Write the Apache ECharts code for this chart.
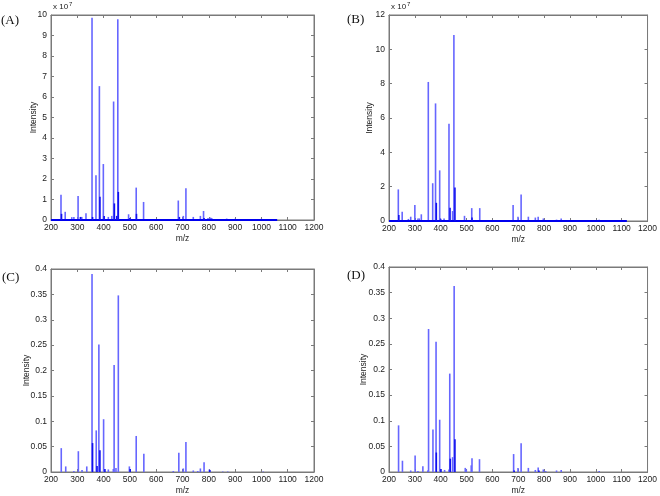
<!DOCTYPE html>
<html>
<head>
<meta charset="utf-8">
<script src="https://cdn.jsdelivr.net/npm/echarts@6/dist/echarts.min.js"></script>
<style>html,body{margin:0;padding:0;background:#fff}#c{width:660px;height:496px}</style>
</head>
<body>
<div id="c"></div>
<script>
// ---------- data (m/z, intensity) ----------
// Panel A (x 10^7)
var mzA   = [238,254,279,287,303,317,333,356,371,384,399,418,431,438,454,495,524,552,684,703,713,741,768,780,797,806,811,851,868,900,1000];
var intA  = [1.23,0.4,0.14,0.15,1.17,0.15,0.33,9.87,2.18,6.53,2.73,0.15,0.2,5.78,9.79,0.28,1.58,0.88,0.95,0.2,1.55,0.15,0.2,0.44,0.1,0.12,0.1,0.05,0.07,0.06,0.06];
var mzAd  = [240,312,358,386,402,441,450,456,500,525,688,782];
var intAd = [0.3,0.15,0.15,1.14,0.2,0.81,0.2,1.37,0.1,0.3,0.15,0.1];
var baseA = [200,1060];
// Panel B (x 10^7)
var mzB   = [236,251,275,284,300,312,317,325,352,369,380,396,399,413,432,446,451,492,520,551,680,699,711,739,766,777,797,848,866,1013];
var intB  = [1.84,0.54,0.12,0.25,0.93,0.15,0.15,0.39,8.1,2.2,6.85,2.95,0.15,0.15,5.67,0.58,10.83,0.3,0.75,0.75,0.93,0.25,1.55,0.25,0.2,0.25,0.15,0.08,0.15,0.08];
var mzBd  = [238,383,400,436,455,521];
var intBd = [0.35,1.06,0.1,0.77,1.95,0.2];
var baseB = [200,1120];
// Panel C
var mzC   = [239,256,287,304,318,336,356,372,382,400,418,437,440,447,456,498,524,553,665,686,703,713,741,758,768,782,802,853,872,1007];
var intC  = [0.047,0.011,0.002,0.041,0.004,0.011,0.39,0.082,0.251,0.104,0.005,0.006,0.211,0.008,0.348,0.011,0.071,0.036,0.002,0.038,0.007,0.059,0.003,0.002,0.007,0.019,0.005,0.001,0.001,0.001];
var mzCd  = [358,375,386,405,501,804];
var intCd = [0.057,0.012,0.043,0.006,0.006,0.004];
// Panel D
var mzD   = [237,252,284,301,312,331,350,353,370,382,396,415,432,435,446,452,495,499,518,521,550,682,699,711,739,766,777,797,806,848,866,1013];
var intD  = [0.091,0.022,0.003,0.032,0.002,0.011,0.003,0.279,0.083,0.254,0.102,0.004,0.005,0.192,0.029,0.363,0.008,0.005,0.013,0.027,0.025,0.035,0.008,0.056,0.008,0.004,0.009,0.005,0.002,0.003,0.004,0.002];
var mzDd  = [383,401,437,455,684,780];
var intDd = [0.038,0.006,0.026,0.064,0.003,0.003];

var panelLabels = ['(A)','(B)','(C)','(D)'];
var yMax = [10,12,0.4,0.4];
var yInt = [1,2,0.05,0.05];
var xMin = 200, xMax = 1200, xInt = 100;
var xName = 'm/z', yName = 'Intensity';

function zip(a,b){ return a.map(function(v,i){return [v,b[i]];}); }

var frameColor = '#7a7a7a';
var grids = [
  {left:51, top:15, width:263, height:205},
  {left:389, top:15, width:263, height:206},
  {left:51, top:269, width:263, height:206},
  {left:389, top:267, width:263, height:206}
].map(function(g){ g.show = true; g.borderColor = frameColor; g.borderWidth = 1; g.backgroundColor = 'transparent'; return g; });
var titlePos = [[1,14],[347,13],[2,271],[347,269]];
var yNameGap = [13,15,20,21];

var labelFont = {fontFamily:'Liberation Sans', fontSize:8.5, color:'#222'};
function plain(v){ return String(Math.round(v*1000)/1000); }

var xAxes = [], yAxes = [], series = [], titles = [];
var mains = [[mzA,intA],[mzB,intB],[mzC,intC],[mzD,intD]];
var darks = [[mzAd,intAd],[mzBd,intBd],[mzCd,intCd],[mzDd,intDd]];
var bases = [baseA, baseB, null, null];

for (var i=0;i<4;i++){
  xAxes.push({gridIndex:i, type:'value', position:'bottom', min:xMin, max:xMax, interval:xInt,
    name:xName, nameLocation:'middle', nameGap:14, nameMoveOverlap:false,
    nameTextStyle:{fontFamily:'Liberation Sans', fontSize:8.5, color:'#222'},
    axisLine:{onZero:false, lineStyle:{color:frameColor, width:1}},
    axisTick:{inside:true, length:3, lineStyle:{color:frameColor}},
    axisLabel:Object.assign({margin:3, showMinLabel:true, showMaxLabel:true, formatter:plain}, labelFont),
    splitLine:{show:false}});
  xAxes.push({gridIndex:i, type:'value', position:'top', min:xMin, max:xMax, interval:xInt,
    axisLine:{show:true, onZero:false, lineStyle:{color:frameColor, width:1}},
    axisTick:{show:true, inside:true, length:3, lineStyle:{color:frameColor}},
    axisLabel:{show:false}, splitLine:{show:false}});
  yAxes.push({gridIndex:i, type:'value', position:'left', min:0, max:yMax[i], interval:yInt[i],
    name:yName, nameLocation:'middle', nameGap:yNameGap[i], nameMoveOverlap:false,
    nameTextStyle:{fontFamily:'Liberation Sans', fontSize:8.5, color:'#222'},
    axisLine:{show:true, onZero:false, lineStyle:{color:frameColor, width:1}},
    axisTick:{show:true, inside:true, length:3, lineStyle:{color:frameColor}},
    axisLabel:Object.assign({margin:4, showMinLabel:true, showMaxLabel:true, formatter:plain}, labelFont),
    splitLine:{show:false}});
  yAxes.push({gridIndex:i, type:'value', position:'right', min:0, max:yMax[i], interval:yInt[i],
    axisLine:{show:true, onZero:false, lineStyle:{color:frameColor, width:1}},
    axisTick:{show:true, inside:true, length:3, lineStyle:{color:frameColor}},
    axisLabel:{show:false}, splitLine:{show:false}});

  if (bases[i]) {
    series.push({type:'line', xAxisIndex:i*2, yAxisIndex:i*2, symbol:'none', silent:true,
      data:[[bases[i][0],0],[bases[i][1],0]], lineStyle:{color:'#0000ee', width:2}, z:3});
  }
  series.push({type:'bar', xAxisIndex:i*2, yAxisIndex:i*2, barWidth:1.6, barGap:'-100%',
    data:zip(mains[i][0], mains[i][1]), itemStyle:{color:'#6666ff'}, z:2});
  series.push({type:'bar', xAxisIndex:i*2, yAxisIndex:i*2, barWidth:1.6, barGap:'-100%',
    data:zip(darks[i][0], darks[i][1]), itemStyle:{color:'#1010ee'}, z:4});

  titles.push({text:panelLabels[i], left:titlePos[i][0], top:titlePos[i][1], padding:0,
    textStyle:{fontFamily:'Liberation Serif', fontSize:13, fontWeight:'normal', color:'#111'}});
}

var expText = function(x,y){
  return [
    {type:'text', left:x, top:y+2, style:{text:'x 10', font:'8px "Liberation Sans"', fill:'#222'}},
    {type:'text', left:x+16, top:y, style:{text:'7', font:'6px "Liberation Sans"', fill:'#222'}}
  ];
};

var chart = echarts.init(document.getElementById('c'), null, {renderer:'canvas'});
chart.setOption({
  animation:false,
  backgroundColor:'#fff',
  title:titles,
  grid:grids,
  xAxis:xAxes,
  yAxis:yAxes,
  series:series,
  graphic:expText(53,1).concat(expText(391,1))
});
</script>
</body>
</html>
